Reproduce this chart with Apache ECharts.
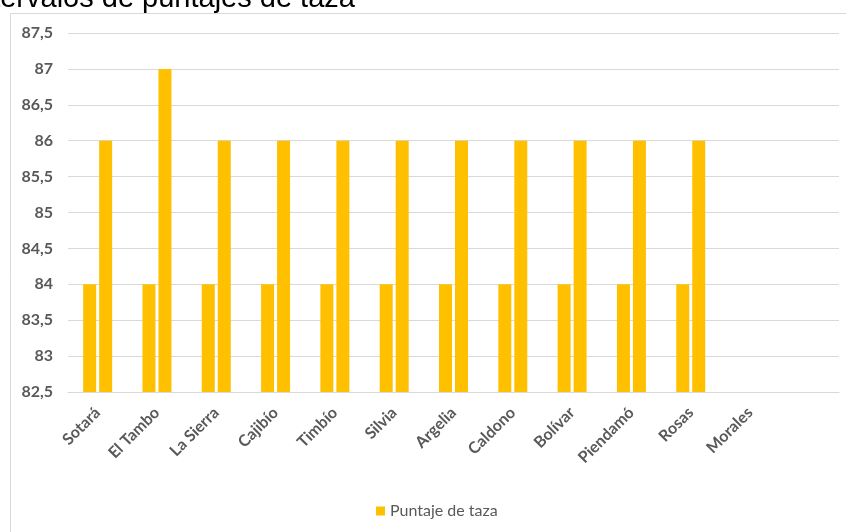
<!DOCTYPE html>
<html>
<head>
<meta charset="utf-8">
<script src="https://cdn.jsdelivr.net/npm/echarts@6/dist/echarts.min.js"></script>
<style>html,body{margin:0;padding:0;background:#fff;}#c{width:846px;height:532px;}</style>
</head>
<body>
<div id="c"></div>
<script>
const titleText = 'Intervalos de puntajes de taza';
const categories = ['Sotará','El Tambo','La Sierra','Cajibío','Timbío','Silvia','Argelia','Caldono','Bolívar','Piendamó','Rosas','Morales',''];
const minValues = [84, 84, 84, 84, 84, 84, 84, 84, 84, 84, 84, null, null];
const maxValues = [86, 87, 86, 86, 86, 86, 86, 86, 86, 86, 86, null, null];
const seriesName = 'Puntaje de taza';
const yMin = 82.5, yMax = 87.5, yStep = 0.5;

const chart = echarts.init(document.getElementById('c'), null, {renderer: 'canvas'});
const font = 'Lato, "Open Sans", sans-serif';
chart.setOption({
  animation: false,
  backgroundColor: '#fff',
  title: {
    text: titleText, left: -32, top: -16, padding: 0,
    textStyle: {fontFamily: '"Liberation Sans", Arial, sans-serif', fontSize: 29, fontWeight: 'normal', color: '#000'}
  },
  graphic: [{
    type: 'rect', left: 8, top: 11, z: -1, silent: true,
    shape: {width: 900, height: 600},
    style: {fill: 'none', stroke: '#d9d9d9', lineWidth: 1}
  }],
  legend: {
    data: [seriesName], left: 371, top: 498,
    icon: 'rect', itemWidth: 9, itemHeight: 9, itemGap: 4,
    textStyle: {fontFamily: font, fontSize: 16, color: '#595959'}
  },
  grid: {left: 68, right: 7, top: 33, bottom: 140, containLabel: false},
  xAxis: {
    type: 'category', data: categories,
    axisLine: {lineStyle: {color: '#d9d9d9'}},
    axisTick: {show: false},
    axisLabel: {rotate: 45, interval: 0, margin: 18, fontFamily: font, fontSize: 16, fontWeight: 'bold', color: '#595959'}
  },
  yAxis: {
    type: 'value', min: yMin, max: yMax, interval: yStep,
    axisLine: {show: false}, axisTick: {show: false},
    splitLine: {lineStyle: {color: '#d9d9d9'}},
    axisLabel: {margin: 15, fontFamily: font, fontSize: 16, fontWeight: 'bold', color: '#595959',
      formatter: v => String(v).replace('.', ',')}
  },
  series: [
    {name: seriesName, type: 'bar', data: minValues, barWidth: 13, barGap: '23%', itemStyle: {color: '#FFC000'}},
    {name: seriesName, type: 'bar', data: maxValues, barWidth: 13, barGap: '23%', itemStyle: {color: '#FFC000'}}
  ]
});
</script>
</body>
</html>
